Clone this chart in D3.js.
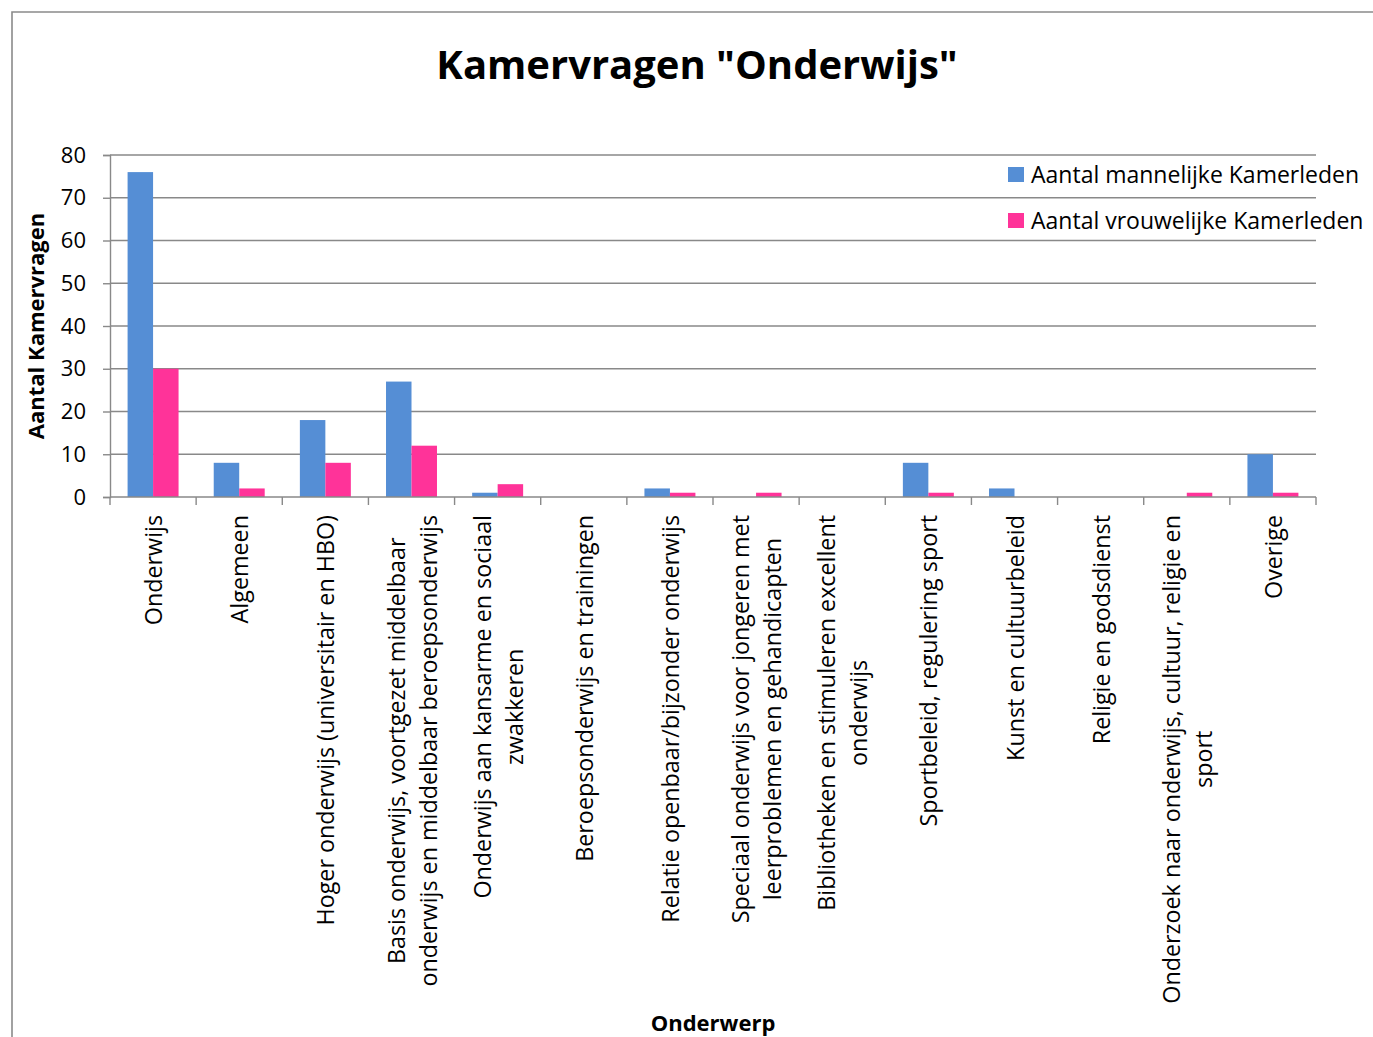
<!DOCTYPE html>
<html>
<head>
<meta charset="utf-8">
<script src="https://cdn.jsdelivr.net/npm/d3@7"></script>
<style>
  body { margin: 0; background: #fff; }
  svg { display: block; font-family: "Open Sans", sans-serif; }
</style>
</head>
<body>
<div id="chart"></div>
<script>
// categorieen (regels zoals ze in de grafiek worden afgebroken)
const categories = [
  ["Onderwijs"],
  ["Algemeen"],
  ["Hoger onderwijs (universitair en HBO)"],
  ["Basis onderwijs, voortgezet middelbaar", "onderwijs en middelbaar beroepsonderwijs"],
  ["Onderwijs aan kansarme en sociaal", "zwakkeren"],
  ["Beroepsonderwijs en trainingen"],
  ["Relatie openbaar/bijzonder onderwijs"],
  ["Speciaal onderwijs voor jongeren met", "leerproblemen en gehandicapten"],
  ["Bibliotheken en stimuleren excellent", "onderwijs"],
  ["Sportbeleid, regulering sport"],
  ["Kunst en cultuurbeleid"],
  ["Religie en godsdienst"],
  ["Onderzoek naar onderwijs, cultuur, religie en", "sport"],
  ["Overige"]
];
const mannen = [76, 8, 18, 27, 1, 0, 2, 0, 0, 8, 2, 0, 0, 10];
const vrouwen = [30, 2, 8, 12, 3, 0, 1, 1, 0, 1, 0, 0, 1, 1];
const seriesNames = ["Aantal mannelijke Kamerleden", "Aantal vrouwelijke Kamerleden"];
const seriesColors = ["#558ed5", "#ff3399"];
const yTicks = [0, 10, 20, 30, 40, 50, 60, 70, 80];

const width = 1373, height = 1037;
const plot = { left: 110, right: 1316, top: 155, bottom: 497 };

const svg = d3.select("#chart").append("svg")
    .attr("width", width)
    .attr("height", height);

// rand van het grafiekgebied
svg.append("path")
    .attr("d", `M12,${height} L12,12 L${width},12`)
    .attr("fill", "none")
    .attr("stroke", "#8a8a8a")
    .attr("stroke-width", 1.6);

const keys = categories.map((c, i) => i);
const x = d3.scaleBand().domain(keys).range([plot.left, plot.right]).padding(0);
const x1 = d3.scaleBand().domain([0, 1]).range([0, x.bandwidth()]).paddingInner(0).paddingOuter(0.69);
const y = d3.scaleLinear().domain([0, 80]).range([plot.bottom, plot.top]);

// rasterlijnen
svg.append("g")
    .selectAll("line")
    .data(yTicks.filter(t => t > 0))
    .enter()
    .append("line")
    .attr("x1", plot.left)
    .attr("x2", plot.right)
    .attr("y1", d => y(d))
    .attr("y2", d => y(d))
    .attr("stroke", "#898989")
    .attr("stroke-width", 1.4);

// staven
const rows = keys.map(i => [mannen[i], vrouwen[i]]);
const groups = svg.append("g")
    .selectAll("g")
    .data(rows)
    .enter()
    .append("g")
    .attr("transform", (d, i) => `translate(${x(i)},0)`);

groups.selectAll("rect")
    .data(d => d.map((v, s) => ({ v: v, s: s })))
    .enter()
    .append("rect")
    .attr("x", d => x1(d.s))
    .attr("width", x1.bandwidth())
    .attr("y", d => y(d.v))
    .attr("height", d => y(0) - y(d.v))
    .attr("fill", d => seriesColors[d.s]);

// y-as
const yAxis = svg.append("g")
    .attr("transform", `translate(${plot.left},0)`)
    .call(d3.axisLeft(y).tickValues(yTicks).tickSize(7).tickPadding(17));
yAxis.select(".domain").attr("stroke", "#898989").attr("stroke-width", 1.4);
yAxis.selectAll(".tick line").attr("stroke", "#898989").attr("stroke-width", 1.4);
yAxis.selectAll("text")
    .attr("fill", "#000")
    .style("font-size", "22px")
    .style("font-family", "Open Sans");

// x-as (streepjes op de grenzen van de categorieen)
const xAxis = svg.append("g")
    .attr("transform", `translate(0,${plot.bottom})`);
xAxis.append("line")
    .attr("x1", plot.left)
    .attr("x2", plot.right)
    .attr("stroke", "#898989")
    .attr("stroke-width", 1.4);
xAxis.selectAll("line.tick")
    .data(d3.range(categories.length + 1))
    .enter()
    .append("line")
    .attr("class", "tick")
    .attr("x1", d => plot.left + d * x.step())
    .attr("x2", d => plot.left + d * x.step())
    .attr("y1", 0)
    .attr("y2", 8)
    .attr("stroke", "#898989")
    .attr("stroke-width", 1.4);

// categorielabels, gedraaid
const labelTop = 515;
const lineGap = 32;
const labels = svg.append("g")
    .selectAll("text")
    .data(categories)
    .enter()
    .append("text")
    .attr("text-anchor", "middle")
    .style("font-size", "23.3px")
    .attr("fill", "#000");

labels.each(function(lines) {
    const t = d3.select(this);
    lines.forEach((line, j) => {
        t.append("tspan")
            .attr("x", 0)
            .attr("dy", j === 0 ? 0 : lineGap)
            .text(line);
    });
});

labels.attr("transform", function(lines, i) {
    const spans = d3.select(this).selectAll("tspan").nodes();
    const longest = d3.max(spans, s => s.getComputedTextLength());
    const cx = x(i) + x.bandwidth() / 2;
    const cy = labelTop + longest / 2;
    // eerste baseline zo dat het blok rond het midden van de band staat
    const bx = cx + 9 - (lines.length - 1) * lineGap / 2;
    return `translate(${bx},${cy}) rotate(-90)`;
});

// titels
svg.append("text")
    .attr("x", 697)
    .attr("y", 79)
    .attr("text-anchor", "middle")
    .style("font-size", "40px")
    .style("font-weight", "bold")
    .text('Kamervragen "Onderwijs"');

svg.append("text")
    .attr("transform", `translate(44,${(plot.top + plot.bottom) / 2}) rotate(-90)`)
    .attr("text-anchor", "middle")
    .style("font-size", "22px")
    .style("font-weight", "bold")
    .text("Aantal Kamervragen");

svg.append("text")
    .attr("x", (plot.left + plot.right) / 2)
    .attr("y", 1031)
    .attr("text-anchor", "middle")
    .style("font-size", "22px")
    .style("font-weight", "bold")
    .text("Onderwerp");

// legenda
const legend = svg.append("g")
    .selectAll("g")
    .data(seriesNames)
    .enter()
    .append("g")
    .attr("transform", (d, i) => `translate(1008,${175 + i * 46})`);

legend.append("rect")
    .attr("x", 0)
    .attr("y", -8)
    .attr("width", 16)
    .attr("height", 15)
    .attr("fill", (d, i) => seriesColors[i]);

legend.append("text")
    .attr("x", 23)
    .attr("y", 8)
    .style("font-size", "23px")
    .text(d => d);
</script>
</body>
</html>
